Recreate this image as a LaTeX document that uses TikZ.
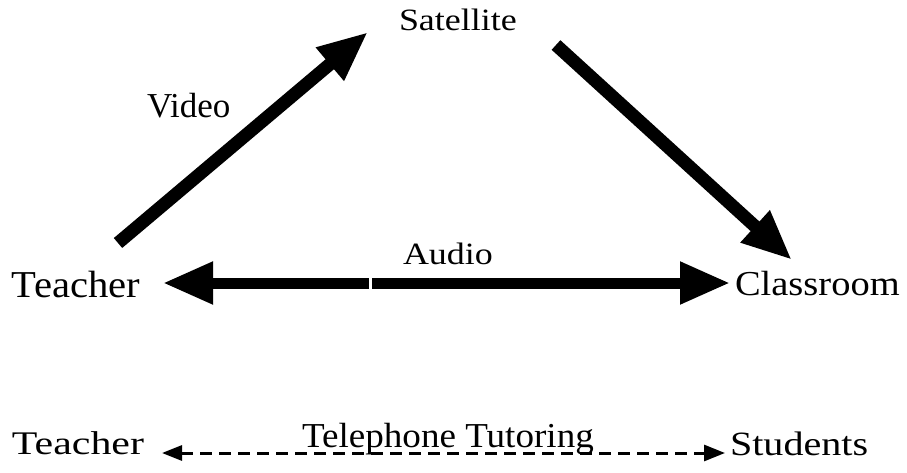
\documentclass[tikz,border=0pt]{standalone}
\usepackage{fontspec}
\setmainfont{Liberation Serif}
\usetikzlibrary{arrows.meta}
\newcommand{\lbl}[3]{\scalebox{#2}[1]{\fontsize{#1pt}{#1pt}\selectfont #3}}
\tikzset{
  lab/.style={anchor=base west, inner sep=0pt, outer sep=0pt},
  bigarrow/.style={line width=13pt, line cap=butt, -{Triangle[length=50pt,width=40pt]}},
  dasharrow/.style={line width=3pt, dash pattern=on 12pt off 7pt,
    {Triangle[length=20pt,width=15pt]}-{Triangle[length=21pt,width=16pt]}}
}
\begin{document}
\begin{tikzpicture}[x=1pt,y=-1pt]
\useasboundingbox[fill=white] (0,0) rectangle (907,473);
% labels
\node[lab] (sat) at (399,31) {\lbl{31}{1.16}{Satellite}};
\node[lab] (video) at (147,118) {\lbl{35}{1.0}{Video}};
\node[lab] (audio) at (403,264) {\lbl{31}{1.16}{Audio}};
\node[lab] (teacher) at (12,297) {\lbl{38}{1.07}{Teacher}};
\node[lab] (class) at (735,295) {\lbl{35}{1.1}{Classroom}};
\node[lab] (teacher2) at (12,454) {\lbl{33}{1.27}{Teacher}};
\node[lab] (tel) at (302,447) {\lbl{35}{1.06}{Telephone Tutoring}};
\node[lab] (stud) at (730,455) {\lbl{34}{1.18}{Students}};
% arrow end points
\coordinate (vTail) at (118,243);
\coordinate (vTip) at (368,32);
\coordinate (sTail) at (556,45);
\coordinate (sTip) at (792,260);
\coordinate (aMidL) at (369,283);
\coordinate (aMidR) at (372,283);
\coordinate (aTipL) at (163,283);
\coordinate (aTipR) at (730,283);
\coordinate (dL) at (162,453);
\coordinate (dR) at (725,453);
% connectors
\draw[bigarrow] (vTail) -- (vTip);
\draw[bigarrow] (sTail) -- (sTip);
\draw[bigarrow, line width=11pt] (aMidL) -- (aTipL);
\draw[bigarrow, line width=11pt] (aMidR) -- (aTipR);
\draw[dasharrow] (dL) -- (dR);
\end{tikzpicture}
\end{document}
